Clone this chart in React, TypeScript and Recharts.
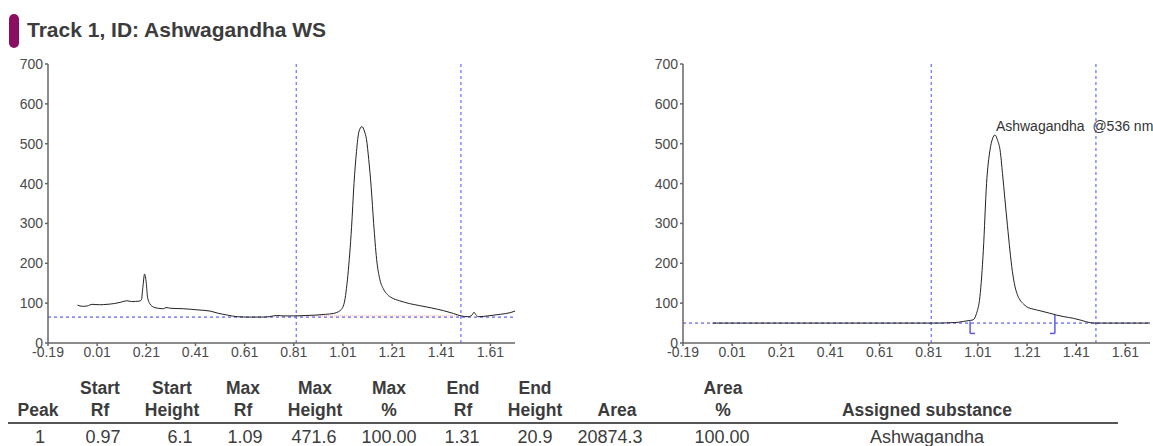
import {
  LineChart,
  Line,
  XAxis,
  YAxis,
  ReferenceLine,
  ReferenceDot,
} from "recharts";

const rfTicks = [-0.19, 0.01, 0.21, 0.41, 0.61, 0.81, 1.01, 1.21, 1.41, 1.61];
const heightTicks = [0, 100, 200, 300, 400, 500, 600, 700];

// left panel: raw track scan
const leftTrace = [
  { rf: -0.07, h: 95 }, { rf: -0.05, h: 92 }, { rf: -0.03, h: 93 }, { rf: -0.01, h: 97 },
  { rf: 0.02, h: 96 }, { rf: 0.05, h: 97 }, { rf: 0.08, h: 99 }, { rf: 0.11, h: 103 },
  { rf: 0.13, h: 106 }, { rf: 0.15, h: 104 }, { rf: 0.18, h: 105 }, { rf: 0.19, h: 108 },
  { rf: 0.196, h: 140 }, { rf: 0.203, h: 173 }, { rf: 0.21, h: 150 }, { rf: 0.215, h: 115 },
  { rf: 0.225, h: 98 }, { rf: 0.24, h: 90 }, { rf: 0.26, h: 87 }, { rf: 0.28, h: 86 },
  { rf: 0.29, h: 89 }, { rf: 0.31, h: 87 }, { rf: 0.36, h: 86 }, { rf: 0.42, h: 83 },
  { rf: 0.47, h: 80 }, { rf: 0.5, h: 75 }, { rf: 0.54, h: 70 }, { rf: 0.58, h: 66 },
  { rf: 0.63, h: 65 }, { rf: 0.68, h: 65 }, { rf: 0.71, h: 66 }, { rf: 0.74, h: 69 },
  { rf: 0.77, h: 68 }, { rf: 0.81, h: 68 }, { rf: 0.86, h: 69 }, { rf: 0.9, h: 70 },
  { rf: 0.94, h: 72 }, { rf: 0.97, h: 74 }, { rf: 1.0, h: 82 }, { rf: 1.015, h: 100 },
  { rf: 1.03, h: 170 }, { rf: 1.045, h: 290 }, { rf: 1.055, h: 400 }, { rf: 1.065, h: 480 },
  { rf: 1.075, h: 530 }, { rf: 1.087, h: 543 }, { rf: 1.097, h: 532 }, { rf: 1.106, h: 510 },
  { rf: 1.115, h: 460 }, { rf: 1.125, h: 390 }, { rf: 1.135, h: 300 }, { rf: 1.147, h: 210 },
  { rf: 1.16, h: 160 }, { rf: 1.175, h: 135 }, { rf: 1.19, h: 122 }, { rf: 1.21, h: 113 },
  { rf: 1.24, h: 106 }, { rf: 1.28, h: 99 }, { rf: 1.32, h: 94 }, { rf: 1.37, h: 88 },
  { rf: 1.42, h: 81 }, { rf: 1.46, h: 74 }, { rf: 1.49, h: 68 }, { rf: 1.52, h: 66 },
  { rf: 1.535, h: 70 }, { rf: 1.543, h: 77 }, { rf: 1.552, h: 70 }, { rf: 1.56, h: 66 },
  { rf: 1.6, h: 68 }, { rf: 1.65, h: 72 }, { rf: 1.69, h: 76 }, { rf: 1.71, h: 80 },
];

// right panel: baseline corrected
const rightTrace = [
  { rf: -0.07, h: 50 }, { rf: 0.82, h: 50 }, { rf: 0.86, h: 50 }, { rf: 0.9, h: 51 },
  { rf: 0.93, h: 52 }, { rf: 0.95, h: 54 }, { rf: 0.97, h: 56 }, { rf: 0.99, h: 58 },
  { rf: 1.004, h: 74 }, { rf: 1.018, h: 116 }, { rf: 1.032, h: 233 }, { rf: 1.045, h: 400 },
  { rf: 1.059, h: 484 }, { rf: 1.069, h: 512 }, { rf: 1.079, h: 522 }, { rf: 1.09, h: 508 },
  { rf: 1.1, h: 484 }, { rf: 1.11, h: 425 }, { rf: 1.12, h: 359 }, { rf: 1.13, h: 295 },
  { rf: 1.14, h: 233 }, { rf: 1.15, h: 180 }, { rf: 1.161, h: 141 }, { rf: 1.17, h: 122 },
  { rf: 1.181, h: 108 }, { rf: 1.195, h: 98 }, { rf: 1.208, h: 91 }, { rf: 1.235, h: 85 },
  { rf: 1.262, h: 81 }, { rf: 1.3, h: 75 }, { rf: 1.33, h: 70 }, { rf: 1.36, h: 66 },
  { rf: 1.398, h: 62 }, { rf: 1.43, h: 57 }, { rf: 1.466, h: 51 }, { rf: 1.486, h: 50 },
  { rf: 1.71, h: 50 },
];

const windowStart = 0.82;
const windowEnd = 1.49;
const leftBaseline = 65;
const rightBaseline = 50;
const peakStart = { rf: 0.978, top: 54, foot: 0.998 };
const peakEnd = { rf: 1.323, top: 70, foot: 1.303 };
const bracketBottom = 24;
const peakLabel = { rf: 1.083, h: 533, text: "Ashwagandha \u00a0@536 nm" };

const tableHeaders = [
  ["", "Peak"], ["Start", "Rf"], ["Start", "Height"], ["Max", "Rf"], ["Max", "Height"],
  ["Max", "%"], ["End", "Rf"], ["End", "Height"], ["", "Area"], ["Area", "%"],
  ["", "Assigned substance"],
];
const tableRow = ["1", "0.97", "6.1", "1.09", "471.6", "100.00", "1.31", "20.9", "20874.3", "100.00", "Ashwagandha"];
const headerX = [38, 100, 172, 243, 315, 389, 463, 535, 617, 723, 927];
const rowX = [40, 103, 180, 245, 314, 389, 462, 535, 610, 722, 927];

const FONT = "'Liberation Sans', Arial, sans-serif";
const TICK_COLOR = "#4a4a4a";

const XTick = (p: any) => (
  <text x={p.x} y={p.y} dy="0.71em" textAnchor="middle" fontSize={14} fill={TICK_COLOR} fontFamily={FONT}>
    {p.payload.value.toFixed(2)}
  </text>
);
const YTick = (p: any) => (
  <text x={p.x} y={p.y} dy="0.355em" textAnchor="end" fontSize={14} fill={TICK_COLOR} fontFamily={FONT}>
    {p.payload.value}
  </text>
);

function Panel({ data, baseline, right }: { data: any[]; baseline: number; right: boolean }) {
  return (
    <LineChart
      width={right ? 520 : 530}
      height={310}
      data={data}
      margin={right ? { top: 14, right: 13, bottom: 1, left: 0 } : { top: 14, right: 15, bottom: 1, left: 8 }}
      style={{ overflow: "visible" }}
    >
      <XAxis
        dataKey="rf"
        type="number"
        domain={[-0.19, 1.71]}
        ticks={rfTicks}
        allowDataOverflow
        height={16}
        tickSize={3}
        tickMargin={1}
        tick={XTick}
        stroke="#666"
        strokeWidth={1.5}
        interval={0}
      />
      <YAxis
        type="number"
        domain={[0, 700]}
        ticks={heightTicks}
        width={40}
        tickSize={3}
        tickMargin={2}
        tick={YTick}
        stroke="#666"
        strokeWidth={1.5}
        interval={0}
      />
      <ReferenceLine y={baseline} stroke="#3a3af0" strokeDasharray="3 3" strokeWidth={1} />
      <ReferenceLine x={windowStart} stroke="#6b6bff" strokeDasharray="3 3" strokeWidth={1.2} />
      <ReferenceLine x={windowEnd} stroke="#6b6bff" strokeDasharray="3 3" strokeWidth={1.2} />
      {!right && (
        <ReferenceLine
          segment={[{ x: windowStart, y: 68 }, { x: windowEnd, y: 68 }]}
          stroke="#f2a0a0"
          strokeDasharray="1 1"
          strokeWidth={1}
        />
      )}
      <Line
        dataKey="h"
        type="monotone"
        stroke="#222"
        strokeWidth={1}
        dot={false}
        isAnimationActive={false}
      />
      {right && (
        <ReferenceLine
          segment={[{ x: peakStart.rf, y: peakStart.top }, { x: peakStart.rf, y: bracketBottom }]}
          stroke="#5a5aee"
          strokeWidth={1.5}
        />
      )}
      {right && (
        <ReferenceLine
          segment={[{ x: peakStart.rf, y: bracketBottom }, { x: peakStart.foot, y: bracketBottom }]}
          stroke="#5a5aee"
          strokeWidth={1.5}
        />
      )}
      {right && (
        <ReferenceLine
          segment={[{ x: peakEnd.rf, y: peakEnd.top }, { x: peakEnd.rf, y: bracketBottom }]}
          stroke="#5a5aee"
          strokeWidth={1.5}
        />
      )}
      {right && (
        <ReferenceLine
          segment={[{ x: peakEnd.rf, y: bracketBottom }, { x: peakEnd.foot, y: bracketBottom }]}
          stroke="#5a5aee"
          strokeWidth={1.5}
        />
      )}
      {right && (
        <ReferenceDot
          x={peakLabel.rf}
          y={peakLabel.h}
          r={0}
          shape={(p: any) => (
            <text x={p.cx} y={p.cy} fontSize={14} fill="#333" fontFamily={FONT}>
              {peakLabel.text}
            </text>
          )}
        />
      )}
    </LineChart>
  );
}

export default function App() {
  return (
    <div
      style={{
        position: "absolute",
        left: 0,
        top: 0,
        width: 1153,
        height: 446,
        overflow: "hidden",
        background: "#fff",
        fontFamily: FONT,
      }}
    >
      <div
        style={{ position: "absolute", left: 9, top: 14, width: 10, height: 34, borderRadius: 5, background: "#8a0f62" }}
      />
      <div
        style={{
          position: "absolute",
          left: 27,
          top: 17,
          fontSize: 21,
          fontWeight: "bold",
          color: "#3c3c3c",
          lineHeight: "26px",
          whiteSpace: "nowrap",
        }}
      >
        Track 1, ID: Ashwagandha WS
      </div>

      <div style={{ position: "absolute", left: 0, top: 50 }}>
        <Panel data={leftTrace} baseline={leftBaseline} right={false} />
      </div>
      <div style={{ position: "absolute", left: 643, top: 50 }}>
        <Panel data={rightTrace} baseline={rightBaseline} right={true} />
      </div>

      <svg style={{ position: "absolute", left: 0, top: 370 }} width={1153} height={76}>
        {tableHeaders.map((h, i) => (
          <g key={i}>
            <text x={headerX[i]} y={18} textAnchor="middle" dominantBaseline="central" fontSize={17.5} fontWeight="bold" fill="#3c3c3c" fontFamily={FONT}>
              {h[0]}
            </text>
            <text x={headerX[i]} y={40} textAnchor="middle" dominantBaseline="central" fontSize={17.5} fontWeight="bold" fill="#3c3c3c" fontFamily={FONT}>
              {h[1]}
            </text>
          </g>
        ))}
        <line x1={8} x2={1118} y1={53} y2={53} stroke="#555" strokeWidth={2} />
        {tableRow.map((v, i) => (
          <text key={i} x={rowX[i]} y={67} textAnchor="middle" dominantBaseline="central" fontSize={18} fill="#3c3c3c" fontFamily={FONT}>
            {v}
          </text>
        ))}
      </svg>
    </div>
  );
}
